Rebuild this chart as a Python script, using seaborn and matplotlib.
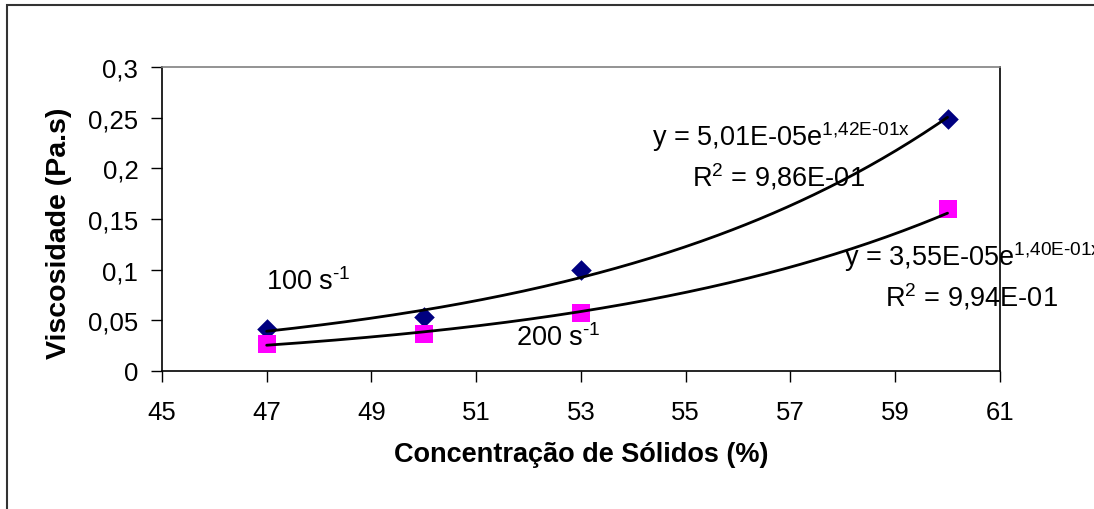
import numpy as np
import pandas as pd
import matplotlib
matplotlib.use("Agg")
import matplotlib.pyplot as plt
from matplotlib.patches import Rectangle
from matplotlib.ticker import FuncFormatter
import seaborn as sns

# Data
concentracao = [47, 50, 53, 60]
visc_100 = [0.0415, 0.053, 0.0995, 0.249]
visc_200 = [0.027, 0.0365, 0.057, 0.160]

x_ticks = [45, 47, 49, 51, 53, 55, 57, 59, 61]
y_ticks = [0, 0.05, 0.1, 0.15, 0.2, 0.25, 0.3]

sns.set_style("white")
plt.rcParams['font.family'] = ['Liberation Sans', 'DejaVu Sans']
plt.rcParams['mathtext.fontset'] = 'custom'
plt.rcParams['mathtext.rm'] = 'Liberation Sans'
plt.rcParams['text.color'] = 'black'
plt.rcParams['axes.labelcolor'] = 'black'
plt.rcParams['xtick.color'] = 'black'
plt.rcParams['ytick.color'] = 'black'

df = pd.DataFrame({'x': concentracao, 'v100': visc_100, 'v200': visc_200})

# Exponential trendlines fitted from the points (like Excel)
xs = np.linspace(min(concentracao), max(concentracao), 200)
fits = {}
for col in ['v100', 'v200']:
    b, ln_a = np.polyfit(df['x'], np.log(df[col]), 1)
    fits[col] = np.exp(ln_a) * np.exp(b * xs)

fig = plt.figure(figsize=(10.94, 5.10), dpi=100)
ax = fig.add_axes([0.148, 0.2706, 0.766, 0.596])

# trend curves drawn over markers
sns.scatterplot(data=df, x='x', y='v100', ax=ax, marker='D', s=110, color='#000080',
                edgecolor='#000080', linewidth=0, zorder=2)
sns.scatterplot(data=df, x='x', y='v200', ax=ax, marker='s', s=180, color='#FF00FF',
                edgecolor='#FF00FF', linewidth=0, zorder=2)
sns.lineplot(x=xs, y=fits['v100'], ax=ax, color='black', linewidth=2, zorder=3)
sns.lineplot(x=xs, y=fits['v200'], ax=ax, color='black', linewidth=2, zorder=3)

ax.set_xlim(45, 61)
ax.set_ylim(0, 0.3)
ax.set_xticks(x_ticks)
ax.set_yticks(y_ticks)
ax.yaxis.set_major_formatter(FuncFormatter(lambda v, p: f"{v:g}".replace('.', ',')))
ax.tick_params(axis='both', direction='out', length=8, width=1, color='black',
               labelsize=18.5, left=True, bottom=True)
ax.tick_params(axis='y', pad=9)
ax.tick_params(axis='x', pad=13)

for side in ['left', 'bottom', 'right']:
    ax.spines[side].set_color('black')
    ax.spines[side].set_linewidth(1.2)
ax.spines['top'].set_color('#808080')
ax.spines['top'].set_linewidth(1.2)

ax.set_xlabel('Concentração de Sólidos (%)', fontsize=19.5, fontweight='bold', labelpad=12)
ax.set_ylabel('Viscosidade (Pa.s)', fontsize=20.5, fontweight='bold')
ax.yaxis.set_label_coords(-0.107, 0.455)

# Trendline equations and series labels
kw = dict(fontsize=19.5, va='center', ha='left', clip_on=False)
ax.text(54.35, 0.232, r'y = 5,01E-05e$^{\text{1,42E-01x}}$', **kw)
ax.text(55.13, 0.1925, r'R$^{\text{2}}$ = 9,86E-01', **kw)
ax.text(58.03, 0.1135, r'y = 3,55E-05e$^{\text{1,40E-01x}}$', **kw)
ax.text(58.8, 0.074, r'R$^{\text{2}}$ = 9,94E-01', **kw)
ax.text(46.98, 0.0888, r'100 s$^{\text{-1}}$', **kw)
ax.text(51.77, 0.0336, r'200 s$^{\text{-1}}$', **kw)

# outer chart-area border
fig.patches.append(Rectangle((7 / 1094, -0.02), 1.05, 1 - 6 / 510 + 0.02,
                             transform=fig.transFigure, fill=False,
                             edgecolor='#333333', linewidth=1.5, clip_on=False))

fig.savefig('out.png', dpi=100)
